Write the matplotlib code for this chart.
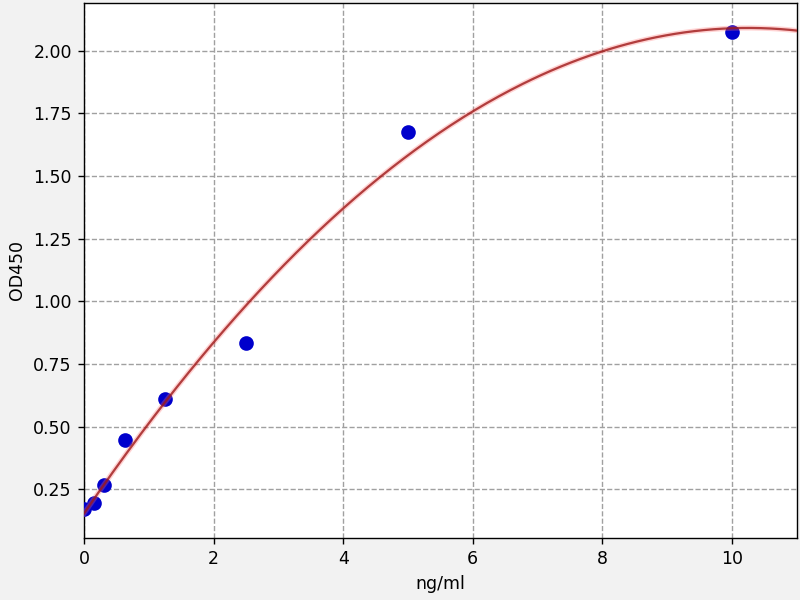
import matplotlib
matplotlib.use("Agg")
import matplotlib.pyplot as plt
import numpy as np

# standard concentrations and measured OD
conc = [0, 0.156, 0.3125, 0.625, 1.25, 2.5, 5, 10]
od450 = [0.17, 0.195, 0.265, 0.445, 0.61, 0.835, 1.675, 2.075]

x_label = "ng/ml"
y_label = "OD450"

fig = plt.figure(figsize=(6.4, 4.8), dpi=125, facecolor="#f2f2f2")
ax = fig.add_axes([0.105, 0.104, 0.891, 0.891])
ax.set_facecolor("white")

# second order fit of the standards
coef = np.polyfit(conc, od450, 2)
xs = np.linspace(0, 11, 300)
ys = np.polyval(coef, xs)

ax.scatter(conc, od450, s=55, color="#0000cc", zorder=3)
ax.plot(xs, ys, color="#ff7070", lw=3, alpha=0.3, zorder=4)
ax.plot(xs, ys, color="#9e1818", lw=1.3, alpha=0.8, zorder=5)

ax.set_xlim(0, 11)
ax.set_ylim(0.057, 2.19)
ax.set_yticks([0.25, 0.5, 0.75, 1.0, 1.25, 1.5, 1.75, 2.0])
ax.set_xticks([0, 2, 4, 6, 8, 10])
ax.grid(True, linestyle="--", color="#a0a0a0", lw=0.8)
ax.set_axisbelow(True)

ax.set_xlabel(x_label)
ax.set_ylabel(y_label)

plt.savefig("out.png", dpi=125, facecolor=fig.get_facecolor())
